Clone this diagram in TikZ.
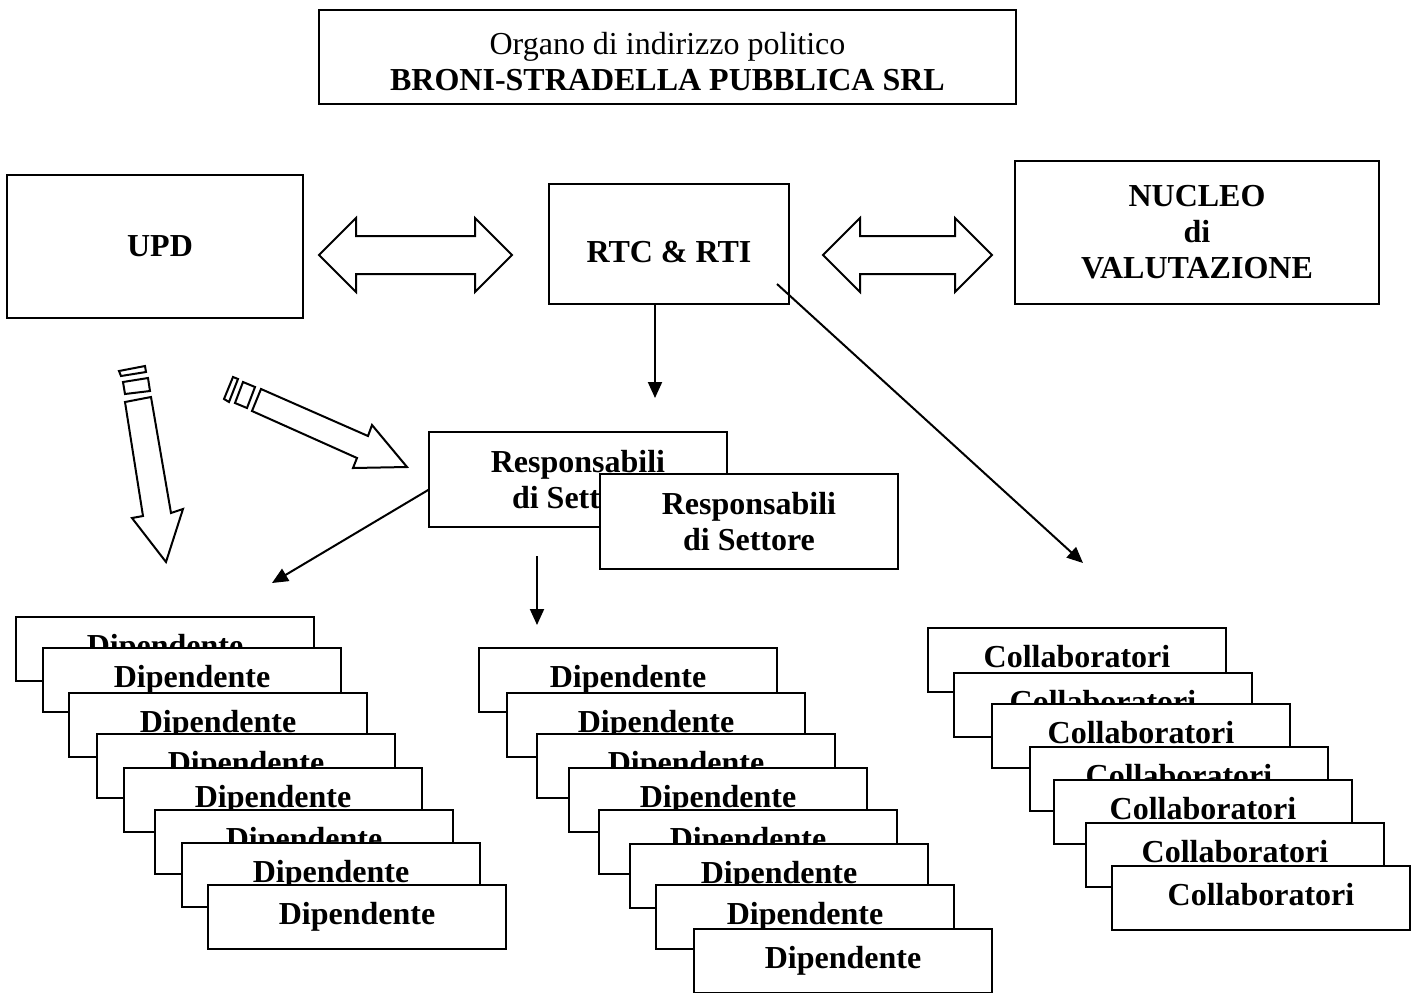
\documentclass[tikz,border=0pt]{standalone}
\usepackage{fontspec}
\setmainfont{Liberation Serif}
\usetikzlibrary{shapes.arrows,arrows.meta,positioning,calc}

\begin{document}
\begin{tikzpicture}[
    x=0.5pt, y=-0.5pt,
    orgbox/.style={rectangle, draw, line width=1pt, fill=white, inner sep=0pt, align=center, font=\fontsize{16pt}{18pt}\selectfont\bfseries},
    staffbox/.style={orgbox, anchor=north west, minimum width=149pt, minimum height=32pt, text height=11pt, text depth=3.5pt},
    linkarrow/.style={double arrow, draw, line width=1pt, inner sep=9pt, double arrow head extend=9pt},
    blockarrow/.style={draw, line width=1pt, fill=white, line join=miter},
    arrow/.style={-{Triangle[length=8pt,width=7pt]}, line width=1pt}
  ]
  \useasboundingbox (0,0) rectangle (1419,992);

  % Vertice
  \node[orgbox, minimum width=348.5pt, minimum height=47pt] (organo) at (667.5,57)
    {\rule{0pt}{16pt}{\mdseries Organo di indirizzo politico}\\BRONI-STRADELLA PUBBLICA SRL};

  % Riga centrale
  \node[orgbox, minimum width=148pt, minimum height=71.5pt] (upd) at (155,246.5) {\hspace*{5pt}UPD};
  \node[orgbox, minimum width=120pt, minimum height=60pt, text height=18pt, text depth=0pt] (rtc) at (669,244) {RTC \& RTI};
  \node[orgbox, minimum width=182pt, minimum height=71.5pt] (nucleo) at (1197,232.5) {NUCLEO\\di\\VALUTAZIONE};
  \node[linkarrow, minimum height=96.5pt] (link1) at (415.5,255) {};
  \node[linkarrow, minimum height=84.5pt] (link2) at (907.5,255) {};

  % Frecce a blocchi da UPD
  \draw[blockarrow] (119,371) -- (145,366) -- (146,372) -- (121,376) -- cycle;
  \draw[blockarrow] (123,382) -- (148,378) -- (150,391) -- (125,394) -- cycle;
  \draw[blockarrow] (125,402) -- (143,516) -- (132,518) -- (166,562) -- (183,509) -- (171,513) -- (151,397) -- cycle;
  \draw[blockarrow] (224,399) -- (233,377) -- (238,379) -- (229,402) -- cycle;
  \draw[blockarrow] (235,403) -- (243,382) -- (255,387) -- (247,408) -- cycle;
  \draw[blockarrow] (261,389) -- (368,436) -- (372,425) -- (407,467) -- (353,468) -- (357,458) -- (252,411) -- cycle;

  % Responsabili di Settore
  \node[orgbox, minimum width=149pt, minimum height=47.5pt] (resp1) at (578,479.5) {Responsabili\\di Settore};
  \node[orgbox, minimum width=149pt, minimum height=47.5pt, anchor=north west, below right=-27.5pt and -64.5pt of resp1] (resp2) {Responsabili\\di Settore};

  % Dipendenti (colonna sinistra)
  \node[staffbox] (dipA1) at (15,616) {Dipendente};
  \node[staffbox] (dipA2) at (42,647) {Dipendente};
  \node[staffbox] (dipA3) at (68,692) {Dipendente};
  \node[staffbox] (dipA4) at (96,733) {Dipendente};
  \node[staffbox] (dipA5) at (123,767) {Dipendente};
  \node[staffbox] (dipA6) at (154,809) {Dipendente};
  \node[staffbox] (dipA7) at (181,842) {Dipendente};
  \node[staffbox] (dipA8) at (207,884) {Dipendente};

  % Dipendenti (colonna centrale)
  \node[staffbox] (dipB1) at (478,647) {Dipendente};
  \node[staffbox] (dipB2) at (506,692) {Dipendente};
  \node[staffbox] (dipB3) at (536,733) {Dipendente};
  \node[staffbox] (dipB4) at (568,767) {Dipendente};
  \node[staffbox] (dipB5) at (598,809) {Dipendente};
  \node[staffbox] (dipB6) at (629,843) {Dipendente};
  \node[staffbox] (dipB7) at (655,884) {Dipendente};
  \node[staffbox] (dipB8) at (693,928) {Dipendente};

  % Collaboratori
  \node[staffbox] (coll1) at (927,627) {Collaboratori};
  \node[staffbox] (coll2) at (953,672) {Collaboratori};
  \node[staffbox] (coll3) at (991,703) {Collaboratori};
  \node[staffbox] (coll4) at (1029,746) {Collaboratori};
  \node[staffbox] (coll5) at (1053,779) {Collaboratori};
  \node[staffbox] (coll6) at (1085,822) {Collaboratori};
  \node[staffbox] (coll7) at (1111,865) {Collaboratori};

  % Frecce
  \coordinate (rtcend) at (655,398);
  \coordinate (collend) at (1083,563);
  \coordinate (dipAend) at (272,583);
  \coordinate (dipBend) at (537,625);
  \draw[arrow] ($(rtc.south)+(-14,-2)$) -- (rtcend);
  \draw[arrow] ($(rtc.south east)+(-13,-21)$) -- (collend);
  \draw[arrow] ($(resp1.west)+(1,10)$) -- (dipAend);
  \draw[arrow] ($(resp1.south)+(-41,28)$) -- (dipBend);
\end{tikzpicture}
\end{document}
